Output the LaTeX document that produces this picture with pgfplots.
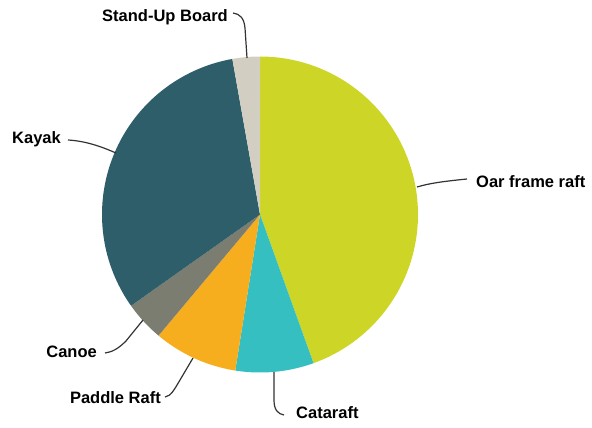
\documentclass[border=0pt]{standalone}
\usepackage{pgfplots}
\pgfplotsset{compat=1.18}
\usepackage{pgfplotstable}
\usepackage{fontspec}
\setmainfont{Liberation Sans}
\definecolor{c0}{HTML}{CDD627}
\definecolor{c1}{HTML}{35BFC0}
\definecolor{c2}{HTML}{F6AE1F}
\definecolor{c3}{HTML}{7C7D71}
\definecolor{c4}{HTML}{2E5E6A}
\definecolor{c5}{HTML}{D2CFC2}
\definecolor{leader}{HTML}{333333}
% shares (percent), clockwise from 12 o'clock
\pgfplotstableread{
label share
Oar_frame_raft 44.5
Cataraft 8.0
Paddle_Raft 8.6
Canoe 4.1
Kayak 32.0
Stand-Up_Board 2.8
}\shares
\begin{document}
\begin{tikzpicture}
\begin{axis}[width=592bp,height=428bp,scale only axis,hide axis,
  xmin=0,xmax=592,ymin=0,ymax=428,y dir=reverse,clip=false]
\path (rel axis cs:0,0) rectangle (rel axis cs:1,1);
\gdef\startang{0}
\pgfplotsforeachungrouped \i in {0,...,5}{%
  \pgfplotstablegetelem{\i}{share}\of\shares
  \pgfmathsetmacro\endang{\startang+3.6*\pgfplotsretval}%
  \edef\cmd{\noexpand\addplot[draw=none,fill=c\i,domain=\startang:\endang,samples=80] ({260+158*sin(x)},{214.5-158*cos(x)}) -- (axis cs:260,214.5) -- cycle;}%
  \cmd
  \global\let\startang\endang
}
\begin{scope}[every node/.style={font=\fontsize{16.5bp}{19bp}\selectfont\bfseries,text=black,inner sep=0pt}]
\node[anchor=east] at (axis cs:228,17) {Stand-Up Board};
\node[anchor=east] at (axis cs:61,139) {Kayak};
\node[anchor=east] at (axis cs:97,352) {Canoe};
\node[anchor=east] at (axis cs:161,398) {Paddle Raft};
\node[anchor=west] at (axis cs:296,413) {Cataraft};
\node[anchor=west] at (axis cs:476,182) {Oar frame raft};
\end{scope}
\begin{scope}[draw=leader,line width=1.2bp]
\draw (axis cs:233,13) .. controls (axis cs:240,14) and (axis cs:244,18) .. (axis cs:245,28) -- (axis cs:247,58);
\draw (axis cs:68,140) .. controls (axis cs:85,141) and (axis cs:100,146) .. (axis cs:116,153);
\draw (axis cs:467,179) .. controls (axis cs:447,181) and (axis cs:430,183) .. (axis cs:417,187);
\draw (axis cs:274,372) -- (axis cs:274,400) .. controls (axis cs:274,410) and (axis cs:278,414) .. (axis cs:284,415);
\draw (axis cs:165,397) .. controls (axis cs:171,396) and (axis cs:174,390) .. (axis cs:180,380) -- (axis cs:193,358);
\draw (axis cs:105,353) .. controls (axis cs:112,352) and (axis cs:118,349) .. (axis cs:126,341) -- (axis cs:143,320);
\end{scope}
\end{axis}
\end{tikzpicture}
\end{document}
